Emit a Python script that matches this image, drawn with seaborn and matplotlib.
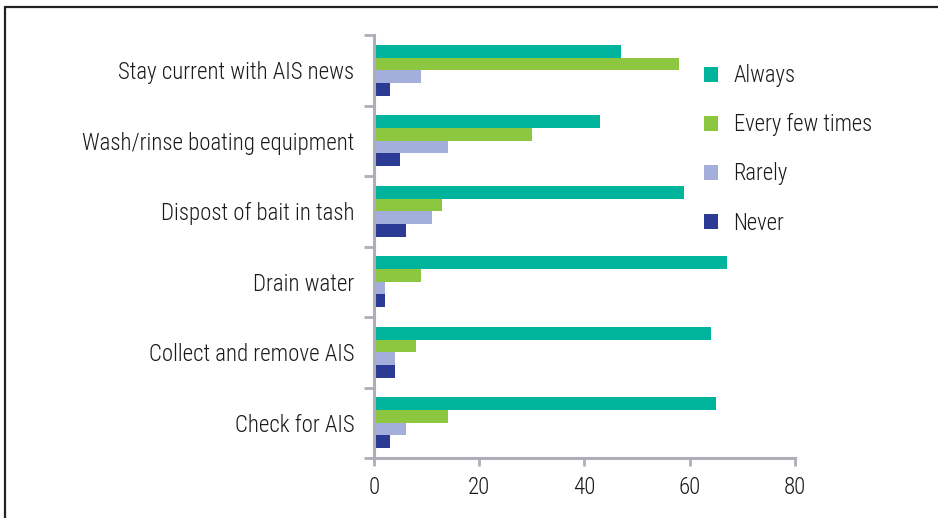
import matplotlib
matplotlib.use('Agg')
import matplotlib.pyplot as plt
from matplotlib.lines import Line2D
import seaborn as sb
import pandas as pd
import numpy as np

#================================================
# DATA

categories = ['Stay current with AIS news', 'Wash/rinse boating equipment',
              'Dispost of bait in tash', 'Drain water',
              'Collect and remove AIS', 'Check for AIS']
series = ['Always', 'Every few times', 'Rarely', 'Never']
always = [47, 43, 59, 67, 64, 65]
every_few = [58, 30, 13, 9, 8, 14]
rarely = [9, 14, 11, 2, 4, 6]
never = [3, 5, 6, 2, 4, 3]
x_ticks = [0, 20, 40, 60, 80]

colors = ['#00b39b', '#8dc63f', '#a3aedb', '#2b3a95']

#================================================
# PLOTTING

sb.set_style('white')
plt.rcParams['font.family'] = ['Roboto Condensed', 'DejaVu Sans']
plt.rcParams['font.weight'] = 'light'
plt.rcParams['text.color'] = '#1a1a1a'
plt.rcParams['xtick.color'] = '#1a1a1a'
plt.rcParams['ytick.color'] = '#1a1a1a'

df = pd.DataFrame({
    'category': categories * 4,
    'series': np.repeat(series, len(categories)),
    'value': always + every_few + rarely + never,
})

fig = plt.figure(figsize=(9.38, 5.18), dpi=100)
ax = fig.add_axes([0.3987, 0.1158, 0.4488, 0.8166])

sb.barplot(data=df, y='category', x='value', hue='series', order=categories,
           hue_order=series, palette=colors, orient='h', width=0.72,
           saturation=1, linewidth=0, ax=ax)

ax.set_xlim(0, 80)
ax.set_ylim(5.5, -0.5)
ax.set_xticks(x_ticks)
ax.set_xticklabels([str(t) for t in x_ticks])
ax.set_xlabel('')
ax.set_ylabel('')

# category boundaries as major ticks, labels at centres
ax.set_yticks(np.arange(-0.5, len(categories), 1.0))
ax.set_yticklabels([])
ax.set_yticks(np.arange(len(categories)), minor=True)
ax.set_yticklabels(categories, minor=True)

spine_col = '#aeaebb'
for s in ['top', 'right']:
    ax.spines[s].set_visible(False)
for s in ['left', 'bottom']:
    ax.spines[s].set_color(spine_col)
    ax.spines[s].set_linewidth(2.2)

ax.tick_params(axis='x', which='major', direction='out', length=6, width=2,
               color=spine_col, labelsize=16.5, pad=7, bottom=True)
ax.tick_params(axis='y', which='major', direction='out', length=7, width=2,
               color=spine_col, left=True)
ax.tick_params(axis='y', which='minor', length=0, labelsize=16.5, pad=14)

leg = ax.legend(loc='upper left', bbox_to_anchor=(0.729, 0.915),
                bbox_transform=fig.transFigure, frameon=False, fontsize=16.3,
                handlelength=0.6, handleheight=0.6, handletextpad=0.7,
                labelspacing=1.15)

# outer frame (only left and top edges visible)
fig.add_artist(Line2D([5 / 938, 5 / 938], [0, 1 - 7 / 518], color='#222222', lw=1.6))
fig.add_artist(Line2D([5 / 938, 1], [1 - 7 / 518, 1 - 7 / 518], color='#222222', lw=1.6))

fig.savefig('out.png', dpi=100)
